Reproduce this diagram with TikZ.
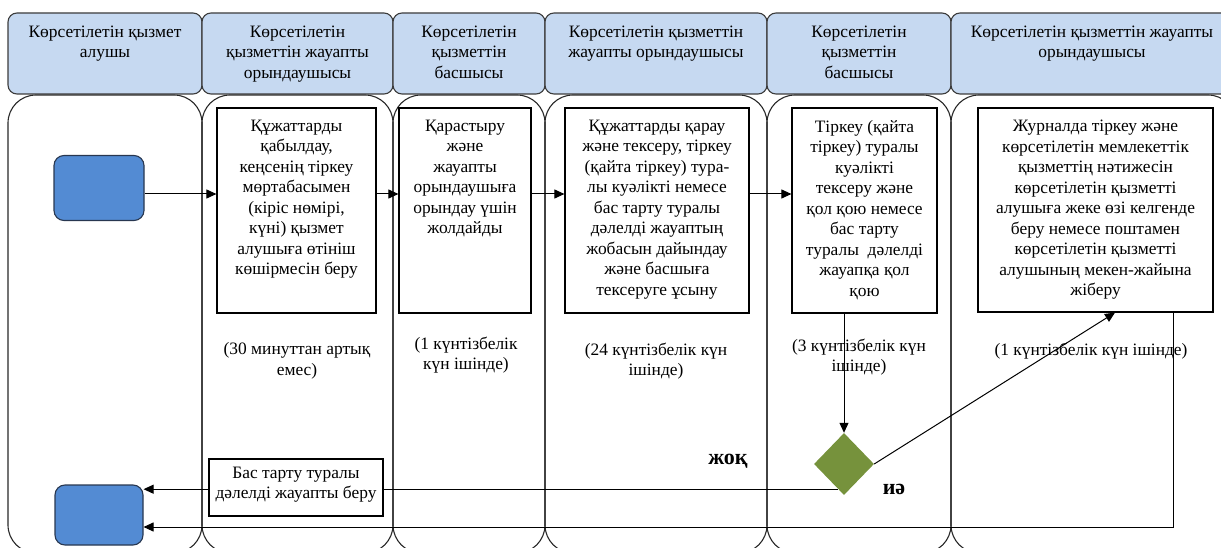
\documentclass[tikz,border=0pt]{standalone}
\usepackage{fontspec}
\setmainfont{Liberation Serif}
\usetikzlibrary{arrows.meta,shapes.geometric}
\definecolor{hdrfill}{RGB}{198,217,241}
\definecolor{hdrline}{RGB}{60,60,60}
\definecolor{lanecol}{RGB}{40,40,40}
\definecolor{bluebox}{RGB}{83,139,211}
\definecolor{blueline}{RGB}{40,55,80}
\definecolor{olivefill}{RGB}{118,146,60}
\tikzset{
  hdrbox/.style={draw=hdrline, fill=hdrfill, line width=1.1pt, rounded corners=9pt},
  lanebox/.style={draw=lanecol, line width=1.1pt, rounded corners=28pt},
  txt/.style={inner sep=0pt, align=center, font=\fontsize{17.4}{20.5}\selectfont},
  procbox/.style={draw=black, line width=1.2pt, fill=white, inner sep=0pt},
  startbox/.style={draw=blueline, fill=bluebox, line width=1.1pt, rounded corners=10pt, inner sep=0pt},
  decision/.style={diamond, fill=olivefill, inner sep=0pt, minimum width=60pt, minimum height=62pt},
  arr/.style={draw=black, line width=1pt, -{Triangle[length=10pt,width=9pt]}},
  answer/.style={inner sep=0pt, font=\fontsize{22}{24}\selectfont\bfseries}
}
\begin{document}
\begin{tikzpicture}[x=1pt,y=-1pt]
\useasboundingbox (0,0) rectangle (1221,548);
\begin{scope}
\clip (0,0) rectangle (1221,548);
% lanes
\foreach \a/\b in {8/202,202/393,393/545,545/767,767/951,951/1236}
  \draw[lanebox] (\a,95) rectangle (\b,553);
% header boxes
\foreach \a/\b in {8/202,202/393,393/545,545/767,767/951,951/1236}
  \draw[hdrbox] (\a,13) rectangle (\b,94);
\end{scope}
% header texts
\node[txt, anchor=north] (h1) at (105,25.5) {Көрсетілетін қызмет\\алушы};
\node[txt, anchor=north] (h2) at (297.5,25.5) {Көрсетілетін\\қызметтін жауапты\\орындаушысы};
\node[txt, anchor=north] (h3) at (469,25.5) {Көрсетілетін\\қызметтін\\басшысы};
\node[txt, anchor=north] (h4) at (656,25.5) {Көрсетілетін қызметтін\\жауапты орындаушысы};
\node[txt, anchor=north] (h5) at (859,25.5) {Көрсетілетін\\қызметтін\\басшысы};
\node[txt, anchor=north] (h6) at (1092,25.5) {Көрсетілетін қызметтін жауапты\\орындаушысы};

% start / end boxes
\node[startbox, minimum width=90pt, minimum height=65pt] (blue1) at (99,188) {};
\node[startbox, minimum width=88pt, minimum height=60pt] (blue2) at (99,515) {};

% process boxes
\node[procbox, minimum width=159pt, minimum height=205pt] (b2) at (296.5,210.5) {};
\node[procbox, minimum width=132pt, minimum height=205pt] (b3) at (465,210.5) {};
\node[procbox, minimum width=184pt, minimum height=205pt] (b4) at (657,210.5) {};
\node[procbox, minimum width=145pt, minimum height=205pt] (b5) at (864.5,210.5) {};
\node[procbox, minimum width=235pt, minimum height=204pt] (b6) at (1095.5,210) {};

\node[txt, anchor=north] (t2) at ([yshift=-12.5pt]b2.north) {Құжаттарды\\қабылдау,\\кеңсенің тіркеу\\мөртабасымен\\(кіріс нөмірі,\\күні) қызмет\\алушыға өтініш\\көшірмесін беру};
\node[txt, anchor=north] (t3) at ([yshift=-12.5pt]b3.north) {Қарастыру\\және\\жауапты\\орындаушыға\\орындау үшін\\жолдайды};
\node[txt, anchor=north] (t4) at ([yshift=-12.5pt]b4.north) {Құжаттарды қарау\\және тексеру, тіркеу\\(қайта тіркеу) тура-\\лы куәлікті немесе\\бас тарту туралы\\дәлелді жауаптың\\жобасын дайындау\\және басшыға\\тексеруге ұсыну};
\node[txt, anchor=north] (t5) at ([yshift=-12.5pt]b5.north) {Тіркеу (қайта\\тіркеу) туралы\\куәлікті\\тексеру және\\қол қою немесе\\бас тарту\\туралы\ \ дәлелді\\жауапқа қол\\қою};
\node[txt, anchor=north] (t6) at ([yshift=-12.5pt]b6.north) {Журналда тіркеу және\\көрсетілетін мемлекеттік\\қызметтің нәтижесін\\көрсетілетін қызметті\\алушыға жеке өзі келгенде\\беру немесе поштамен\\көрсетілетін қызметті\\алушының мекен-жайына\\жіберу};

% time labels
\node[txt, anchor=north] (l2) at (297,342.5) {(30 минуттан артық\\емес)};
\node[txt, anchor=north] (l3) at (466,336.5) {(1 күнтізбелік\\күн ішінде)};
\node[txt, anchor=north] (l4) at (656,342.5) {(24 күнтізбелік күн\\ішінде)};
\node[txt, anchor=north] (l5) at (859,338.5) {(3 күнтізбелік күн\\ішінде)};
\node[txt, anchor=north] (l6) at (1091,342.5) {(1 күнтізбелік күн ішінде)};

% decision
\node[decision] (d) at (844,464) {};
\node[answer] (no) at (728,461) {жоқ};
\node[answer] (yes) at (894,489) {иә};

% helper coordinates
\coordinate (yarr) at (0,194);
\coordinate (ylow) at (0,527);
\coordinate (nostart) at ([xshift=-6pt,yshift=6pt]d.south);

% connectors
\draw[arr] (blue1.east |- yarr) -- (b2.west |- yarr);
\draw[arr] (b2.east |- yarr) -- (b3.west |- yarr);
\draw[arr] (b3.east |- yarr) -- (b4.west |- yarr);
\draw[arr] (b4.east |- yarr) -- (b5.west |- yarr);
\draw[arr] (d.north |- b5.south) -- (d.north);
\draw[arr] (d.east) -- ([xshift=19.5pt]b6.south);
\draw[arr] ([xshift=77.5pt]b6.south) |- (blue2.east |- ylow);
\draw[arr] (nostart) -- (nostart -| blue2.east);

% refusal box on top of the line
\node[procbox, minimum width=174pt, minimum height=57pt] (ref) at (296,487.5) {};
\node[txt] (reftxt) at ([yshift=3pt]ref.center) {Бас тарту туралы\\дәлелді жауапты беру};
\end{tikzpicture}
\end{document}
